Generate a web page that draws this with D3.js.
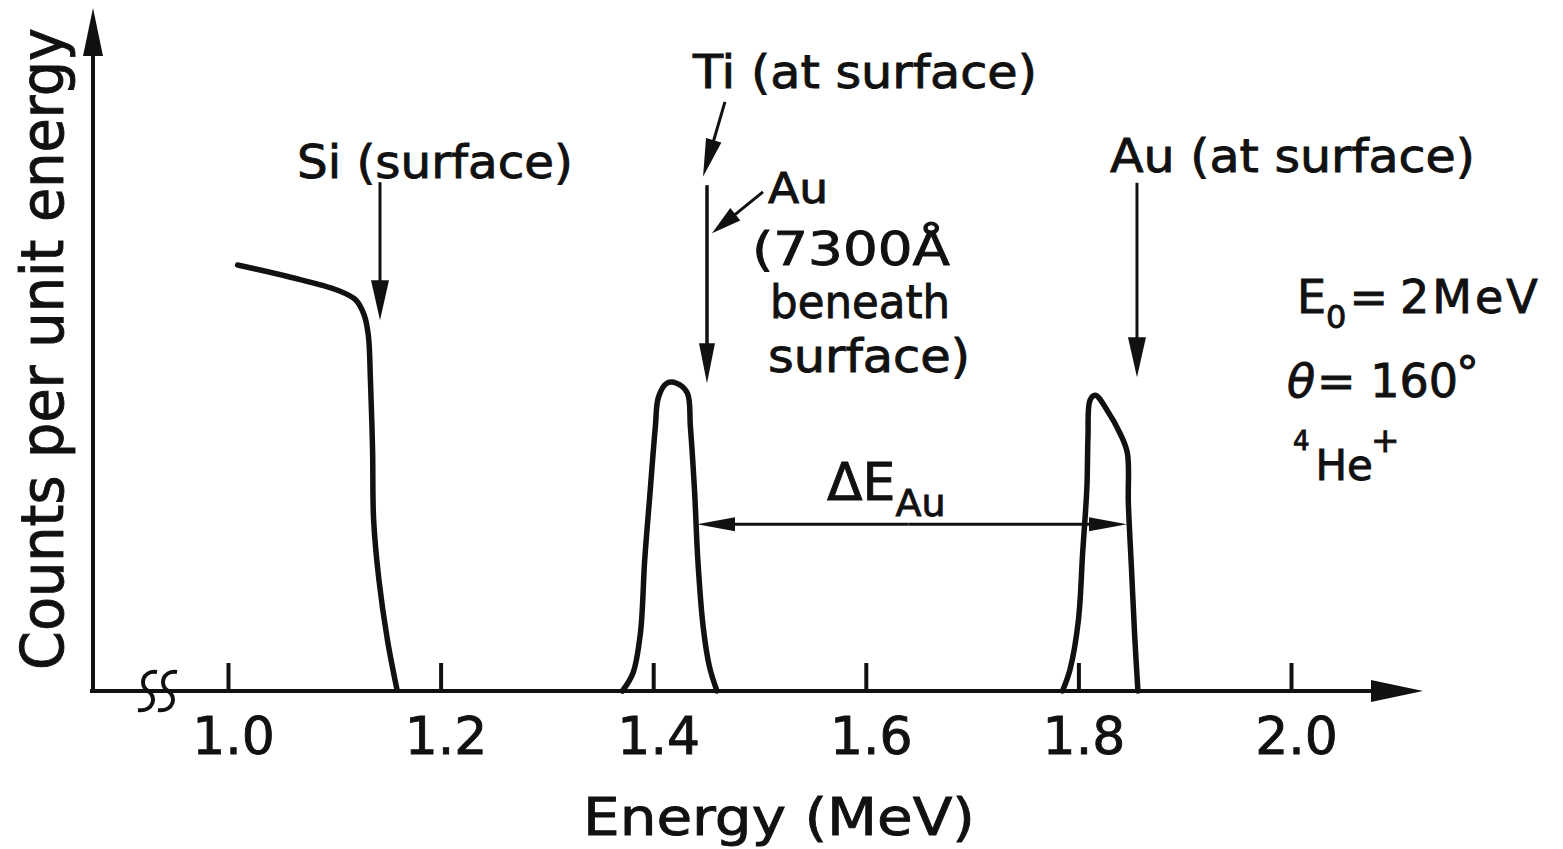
<!DOCTYPE html>
<html>
<head>
<meta charset="utf-8">
<script src="https://cdn.jsdelivr.net/npm/d3@7"></script>
<style>
  body { margin: 0; background: #fff; }
  svg text { font-family: "DejaVu Sans", sans-serif; fill: #111; stroke: #111; stroke-width: 0.9px; }
</style>
</head>
<body>
<svg id="chart" width="1563" height="849"></svg>
<script>
// energy axis ticks
const tickValues = [1.0, 1.2, 1.4, 1.6, 1.8, 2.0];
const tickLabels = ["1.0", "1.2", "1.4", "1.6", "1.8", "2.0"];

// Si substrate edge (MeV, counts in arbitrary units)
const siEnergy = [1.009, 1.058, 1.103, 1.120, 1.128, 1.132, 1.134, 1.136, 1.137, 1.142, 1.150, 1.159];
const siCounts = [71.0, 69.0, 66.8, 65.2, 62.7, 59.3, 51.8, 40.2, 28.5, 18.5, 8.5, 0.2];

// Ti peak / Au buried under 7300 A
const tiEnergy = [1.371, 1.381, 1.388, 1.392, 1.397, 1.402, 1.405, 1.413, 1.422, 1.432, 1.435, 1.439, 1.442, 1.447, 1.453, 1.460];
const tiCounts = [0, 3.0, 9.7, 21.8, 33.0, 44.0, 49.0, 51.3, 51.3, 49.7, 44.0, 33.0, 21.8, 10.7, 4.0, 0];

// Au peak at surface
const auEnergy = [1.785, 1.792, 1.800, 1.804, 1.808, 1.809, 1.811, 1.816, 1.827, 1.839, 1.846, 1.847, 1.850, 1.853, 1.856];
const auCounts = [0, 3.5, 11.8, 23.0, 34.0, 42.3, 48.5, 49.3, 46.8, 43.0, 39.7, 31.3, 20.2, 9.0, 0];

const svg = d3.select("#chart");

const x = d3.scaleLinear().domain([1.0, 2.0]).range([228, 1291]);
const y = d3.scaleLinear().domain([0, 100]).range([691, 91]);

const ink = "#111";

// arrow helper: line plus a filled head at the end
function arrow(x1, y1, x2, y2, headLen, headHalf, sw) {
  const dx = x2 - x1, dy = y2 - y1;
  const len = Math.sqrt(dx * dx + dy * dy);
  const ux = dx / len, uy = dy / len;
  const bx = x2 - ux * headLen, by = y2 - uy * headLen;
  svg.append("line")
    .attr("x1", x1).attr("y1", y1).attr("x2", bx + ux * 2).attr("y2", by + uy * 2)
    .attr("stroke", ink).attr("stroke-width", sw);
  svg.append("path")
    .attr("d", "M" + x2 + "," + y2 +
      " L" + (bx - uy * headHalf) + "," + (by + ux * headHalf) +
      " L" + (bx + uy * headHalf) + "," + (by - ux * headHalf) + " Z")
    .attr("fill", ink);
}

// axes lines with arrow heads
const x0 = 93, y0 = y(0);
arrow(x0, y0 + 2, x0, 8, 48, 10, 4);
arrow(x0 - 3, y0, 1423, y0, 52, 11, 4);

// tick marks and labels
const axis = d3.axisBottom(x)
  .tickValues(tickValues)
  .tickFormat((d, i) => tickLabels[i])
  .tickSizeInner(-28)
  .tickSizeOuter(0)
  .tickPadding(26);

const gx = svg.append("g").attr("transform", "translate(0," + y0 + ")").call(axis);
gx.select(".domain").remove();
gx.selectAll(".tick line").attr("stroke", ink).attr("stroke-width", 4);
gx.selectAll(".tick text")
  .attr("fill", ink)
  .attr("dx", 5)
  .style("font-size", "52px")
  .style("font-family", "DejaVu Sans");

// axis break marks
[148, 168].forEach(cx => {
  svg.append("path")
    .attr("d", "M" + (cx + 9) + "," + (y0 - 19) +
      " C" + (cx - 6) + "," + (y0 - 21) + " " + (cx - 9) + "," + (y0 - 5) + " " + cx + "," + y0 +
      " C" + (cx + 9) + "," + (y0 + 5) + " " + (cx + 6) + "," + (y0 + 21) + " " + (cx - 10) + "," + (y0 + 19))
    .attr("fill", "none").attr("stroke", ink).attr("stroke-width", 4);
});

// spectrum curves
const line = d3.line()
  .x(d => x(d[0]))
  .y(d => y(d[1]))
  .curve(d3.curveCatmullRom.alpha(0.5));

[[siEnergy, siCounts], [tiEnergy, tiCounts], [auEnergy, auCounts]].forEach(s => {
  svg.append("path")
    .attr("d", line(d3.zip(s[0], s[1])))
    .attr("fill", "none")
    .attr("stroke", ink)
    .attr("stroke-width", 5.5)
    .attr("stroke-linejoin", "round")
    .attr("stroke-linecap", "round");
});

// annotation arrows (energy, counts)
arrow(x(1.143), y(84.8), x(1.143), y(61.8), 40, 9, 3);
arrow(x(1.4675), y(98.2), x(1.4469), y(85.7), 38, 8, 3);
arrow(x(1.4506), y(84.3), x(1.4506), y(51.3), 40, 8, 3.5);
arrow(x(1.5033), y(83.2), x(1.4553), y(76.3), 30, 8, 3);
arrow(x(1.8551), y(84.7), x(1.8551), y(52.3), 40, 9, 3);

// delta E double arrow
arrow(x(1.64), y(27.8), x(1.4412), y(27.8), 38, 7, 3);
arrow(x(1.64), y(27.8), x(1.8457), y(27.8), 38, 7, 3);

// text labels
function label(str, px, py, size, len, anchor) {
  svg.append("text")
    .attr("x", px).attr("y", py)
    .attr("text-anchor", anchor)
    .attr("textLength", len)
    .attr("lengthAdjust", "spacingAndGlyphs")
    .style("font-size", size + "px")
    .text(str);
}

label("Si (surface)", x(1.1947), y(85.5), 46, 276, "middle");
label("Ti (at surface)", x(1.5992), y(100.5), 46, 344, "middle");
label("Au (at surface)", x(2.0014), y(86.5), 46, 365, "middle");
label("Au", x(1.508), y(81.3), 42, 60, "start");
label("(7300Å", x(1.4929), y(71), 46, 198, "start");
label("beneath", x(1.5099), y(62.2), 46, 180, "start");
label("surface)", x(1.508), y(53.2), 46, 202, "start");

// delta E label
const de = svg.append("text")
  .attr("x", x(1.5635)).attr("y", y(31.8))
  .style("font-size", "52px");
de.append("tspan").text("ΔE");
de.append("tspan").attr("dy", 16).style("font-size", "38px").text("Au");

// beam conditions
const e0 = svg.append("text").attr("x", x(2.0056)).attr("y", y(63)).style("font-size", "46px");
e0.append("tspan").text("E");
e0.append("tspan").attr("dy", 15).style("font-size", "32px").text("0");
e0.append("tspan").attr("dy", -15).attr("dx", 3).text("=");
e0.append("tspan").attr("dx", 12).style("letter-spacing", "3px").text("2MeV");

const th = svg.append("text").attr("x", x(1.9962)).attr("y", y(49)).style("font-size", "46px");
th.append("tspan").style("font-style", "italic").text("θ");
th.append("tspan").attr("dx", 2).text("= 160");
th.append("tspan").attr("dy", -8).attr("dx", -2).style("font-size", "46px").text("°");

const he = svg.append("text").attr("x", x(2.0018)).attr("y", y(35.2)).style("font-size", "42px");
he.append("tspan").attr("dy", -30).style("font-size", "26px").text("4");
he.append("tspan").attr("dy", 30).attr("dx", 6).text("He");
he.append("tspan").attr("dy", -28).attr("dx", -2).style("font-size", "34px").text("+");

// axis titles
svg.append("text")
  .attr("x", 779).attr("y", 835)
  .attr("text-anchor", "middle")
  .attr("textLength", 392).attr("lengthAdjust", "spacingAndGlyphs")
  .style("font-size", "52px")
  .text("Energy (MeV)");

svg.append("text")
  .attr("transform", "translate(63,349) rotate(-90)")
  .attr("text-anchor", "middle")
  .attr("textLength", 642).attr("lengthAdjust", "spacingAndGlyphs")
  .style("font-size", "58px")
  .text("Counts per unit energy");
</script>
</body>
</html>
